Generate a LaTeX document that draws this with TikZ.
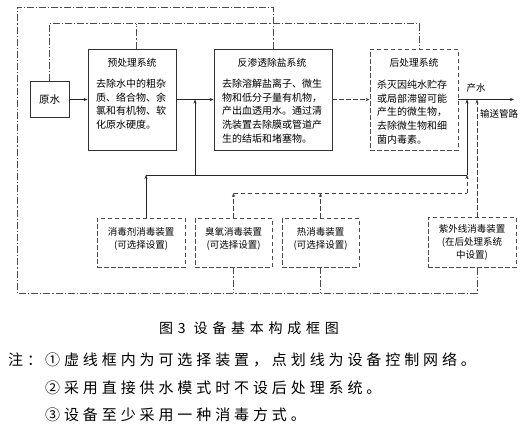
\documentclass[tikz,border=0pt]{standalone}
\usepackage{fontspec}
\setmainfont{Liberation Serif}
\newfontfamily\cjk{Noto Sans CJK SC}
\newfontfamily\cjkcap[LetterSpace=34]{Noto Sans CJK SC}
\newfontfamily\cjknote[LetterSpace=26]{Noto Sans CJK SC}
\usetikzlibrary{arrows.meta,calc}
\begin{document}
\begin{tikzpicture}[x=1pt,y=-1pt,
  box/.style={draw=black!80,line width=0.8pt,inner sep=0pt,rectangle},
  optbox/.style={box,draw=black!70,dash pattern=on 4.5pt off 2.5pt},
  ctrl/.style={draw=black!70,line width=0.7pt,dash pattern=on 7pt off 2pt on 1.2pt off 2pt},
  flow/.style={draw=black!85,line width=0.8pt},
  optflow/.style={flow,draw=black!75,dash pattern=on 4.5pt off 2.5pt},
  tip/.style={-{Stealth[length=4pt,width=3.2pt]}},
  body/.style={font=\cjk\fontsize{10}{13.6}\selectfont,align=left,inner sep=0pt,anchor=north west},
  titletext/.style={font=\cjk\fontsize{9.8}{11}\selectfont,inner sep=0pt},
  small/.style={font=\cjk\fontsize{9.5}{13}\selectfont,align=center,inner sep=0pt},
  note/.style={font=\cjknote\fontsize{15}{18}\selectfont,inner sep=0pt,anchor=west},
]
\useasboundingbox (0,0) rectangle (524,437);

% main boxes
\node[box,minimum width=39pt,minimum height=36pt,font=\cjk\fontsize{10.5}{12}\selectfont] (raw) at (49.5,99.5) {原水};
\node[box,minimum width=88pt,minimum height=101pt] (pre) at (132,99.5) {};
\node[box,minimum width=118pt,minimum height=101pt] (ro) at (273,99.5) {};
\node[optbox,minimum width=88pt,minimum height=101pt] (post) at (414,99.5) {};

\node[titletext] (pretitle) at (132,63) {预处理系统};
\node[body] (prebody) at (96,79) {去除水中的粗杂\\质、络合物、余\\氯和有机物、软\\化原水硬度。};
\node[titletext] (rotitle) at (272,63) {反渗透除盐系统};
\node[body] (robody) at (222,79) {去除溶解盐离子、微生\\物和低分子量有机物，\\产出血透用水。通过清\\洗装置去除膜或管道产\\生的结垢和堵塞物。};
\node[titletext] (posttitle) at (414,63) {后处理系统};
\node[body] (postbody) at (377,80) {杀灭因纯水贮存\\或局部滞留可能\\产生的微生物，\\去除微生物和细\\菌内毒素。};

% disinfection boxes
\node[optbox,minimum width=88pt,minimum height=49pt] (dis1) at (141,242.5) {};
\node[optbox,minimum width=77pt,minimum height=49pt] (dis2) at (233.5,242.5) {};
\node[optbox,minimum width=77pt,minimum height=49pt] (dis3) at (320.5,242.5) {};
\node[optbox,minimum width=88pt,minimum height=50pt] (uv) at (472,242) {};
\node[small] (dis1t) at (141,238.5) {消毒剂消毒装置\\(可选择设置)};
\node[small] (dis2t) at (233.5,238.5) {臭氧消毒装置\\(可选择设置)};
\node[small] (dis3t) at (320.5,238.5) {热消毒装置\\(可选择设置)};
\node[small] (uvt) at (472,242.5) {紫外线消毒装置\\(在后处理系统\\中设置)};

% labels
\node[small] (chanshui) at (476,88) {产水};
\node[small] (shusong) at (499,114) {输送管路};

% coordinates
\coordinate (out) at (514,99.5);
\coordinate (j1) at (195,99.5);
\coordinate (j2) at (467,99.5);
\coordinate (j3) at (477,99.5);
\coordinate (h1) at (146,175);
\coordinate (h2) at (467,175);
\coordinate (h3) at (195,175);
\coordinate (d1) at (233.5,193);
\coordinate (d2) at (467,193);
\coordinate (c2) at ($(post.north)+(5,-25)$);
\coordinate (o1) at (17,7);
\coordinate (o2) at (17,293);
\coordinate (o3) at (477,293);

% main flow
\draw[flow,tip] (raw.east) -- (pre.west);
\draw[flow,tip] (pre.east) -- (ro.west);
\draw[optflow,tip] (ro.east) -- (post.west);
\draw[flow,tip] (post.east) -- (out);

% disinfection flows
\draw[flow] (h1) -- (h2);
\draw[flow,tip] (h3) -- (j1);
\draw[flow,tip] (h2) -- (j2);
\draw[flow,tip] (dis1.north -| h1) -- (h1);
\draw[optflow] (d1) -- (d2);
\draw[optflow,tip] (d2) -- (h2);
\draw[optflow,tip] (dis2.north) -- (d1);
\draw[optflow,tip] (dis3.north) -- (dis3.north |- d1);
\draw[optflow,tip] (uv.north -| j3) -- (j3);

% control network
\draw[ctrl] (raw.north) |- (c2) -- ($(post.north)+(5,0)$);
\draw[ctrl] ($(pre.north)+(4,0)$) -- ++(0,-25);
\draw[ctrl] (ro.north) -- (ro.north |- o1) -- (o1) -- (o2) -- (o3) -- (uv.south -| o3);
\draw[ctrl] ($(dis1.south)+(-8,0)$) -- ($(dis1.south)+(-8,0)$ |- o2);
\draw[ctrl] (dis2.south) -- (dis2.south |- o2);
\draw[ctrl] (dis3.south) -- (dis3.south |- o2);

% caption and notes
\node[font=\cjkcap\fontsize{14}{16}\selectfont,inner sep=0pt,anchor=west] (cap) at (159,328) {图3 设备基本构成框图};
\node[note] (n0) at (8,360) {注：};
\node[note] (n1) at (45,360) {①虚线框内为可选择装置，点划线为设备控制网络。};
\node[note] (n2) at (45,388) {②采用直接供水模式时不设后处理系统。};
\node[note] (n3) at (45,415) {③设备至少采用一种消毒方式。};
\end{tikzpicture}
\end{document}
